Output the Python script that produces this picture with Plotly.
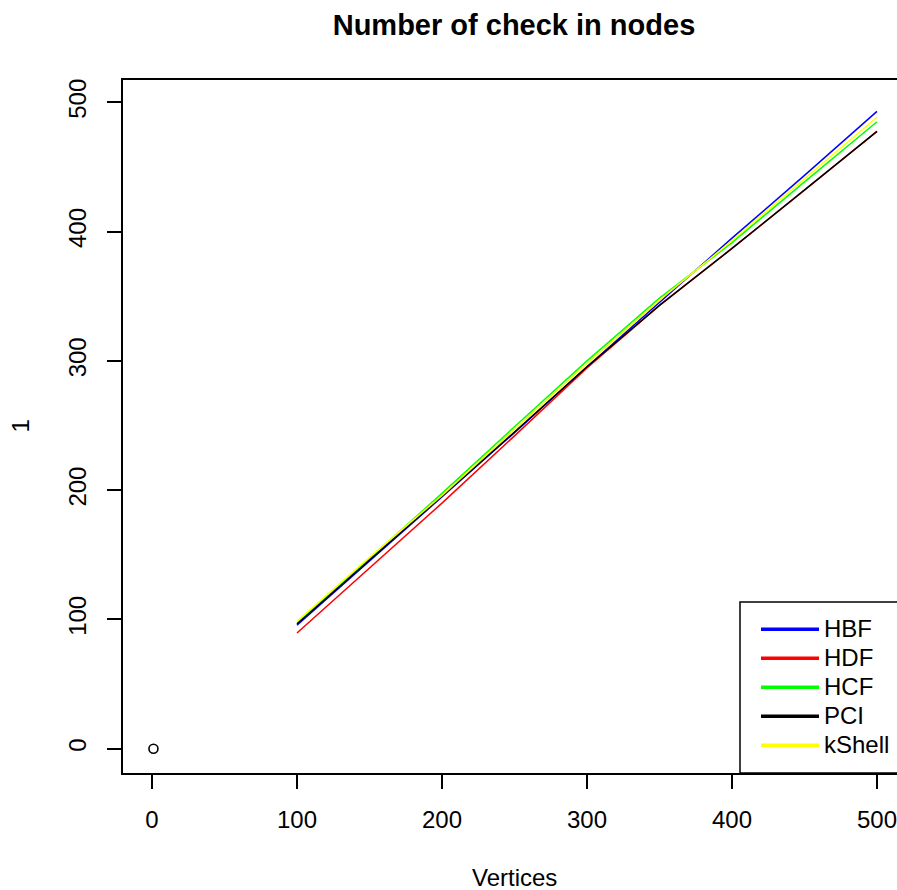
import plotly.graph_objects as go

# values (x = vertices)
vertices = [100, 150, 200, 250, 300, 350, 400, 450, 500]
hbf = [95.5, 145, 194.5, 244.5, 295.5, 345, 395, 443.5, 493]
hdf = [89.5, 139.5, 190, 242, 294.5, 343, 387, 432, 477.5]
hcf = [97, 147.5, 197.5, 249, 300, 348.5, 391.5, 438.5, 485]
pci = [96.5, 146, 195, 245, 295.5, 343, 387, 432, 477.5]
kshell = [98.5, 148, 196, 247, 298, 347, 393, 441, 488.5]

point_x = [1]
point_y = [0]

series = [
    ("HBF", hbf, "#0000ff"),
    ("HDF", hdf, "#ff0000"),
    ("HCF", hcf, "#00ff00"),
    ("PCI", pci, "#000000"),
    ("kShell", kshell, "#ffff00"),
]

FONT = "Liberation Sans, Arial, sans-serif"

fig = go.Figure()

fig.add_trace(go.Scatter(x=point_x, y=point_y, mode="markers", showlegend=False,
                         marker=dict(symbol="circle-open", size=9, color="black",
                                     line=dict(width=1.6))))

for name, vals, col in series:
    fig.add_trace(go.Scatter(x=vertices, y=vals, mode="lines", name=name, showlegend=False,
                             line=dict(color=col, width=1.5)))

# legend entries with thicker line samples (larger text, tighter rows)
for name, vals, col in series:
    fig.add_trace(go.Scatter(x=[None], y=[None], mode="lines",
                             name=f"<span style='font-size:24px'>{name}</span>",
                             line=dict(color=col, width=3.5)))

# legend frame running off the right edge like the reference
fig.add_shape(type="rect", xref="paper", yref="paper",
              x0=(740 - 123) / 774, x1=1.05, y0=0, y1=(773 - 602) / 693,
              line=dict(color="black", width=1.5), fillcolor="white", layer="above")

fig.update_layout(
    width=897, height=890, autosize=False,
    margin=dict(l=123, r=0, t=80, b=117),
    plot_bgcolor="white", paper_bgcolor="white",
    font=dict(family=FONT, size=24, color="black"),
    title=dict(text="<b>Number of check in nodes</b>", x=514 / 897, xanchor="center",
               y=1 - 25 / 890, yanchor="middle", yref="container",
               font=dict(family=FONT, size=29, color="black")),
    showlegend=True,
    legend=dict(x=(756 - 123) / 774, xanchor="left", y=0.012, yanchor="bottom",
                bgcolor="rgba(0,0,0,0)", borderwidth=0, itemwidth=58,
                font=dict(family=FONT, size=20, color="black"),
                tracegroupgap=0),
)

fig.update_xaxes(range=[-20, 513.8], tickvals=[0, 100, 200, 300, 400, 500],
                 showgrid=False, zeroline=False, showline=True, linecolor="black",
                 linewidth=1.5, mirror=True, ticks="outside", ticklen=14, tickwidth=1.5,
                 tickcolor="black", ticklabelstandoff=10, ticklabeloverflow="allow",
                 tickfont=dict(family=FONT, size=24, color="black"))
fig.update_yaxes(range=[-18.8, 517.3], tickvals=[0, 100, 200, 300, 400, 500],
                 showgrid=False, zeroline=False, showline=True, linecolor="black",
                 linewidth=1.5, mirror=False, ticks="outside", ticklen=14, tickwidth=1.5,
                 tickcolor="black", tickangle=-90, ticklabelstandoff=12,
                 tickfont=dict(family=FONT, size=24, color="black"))

fig.add_annotation(text="Vertices", xref="paper", yref="paper", x=(514 - 123) / 774, y=0,
                   xanchor="center", yanchor="middle", yshift=-104, showarrow=False,
                   font=dict(family=FONT, size=24, color="black"))
fig.add_annotation(text="1", xref="paper", yref="paper", x=0, y=0.5, textangle=-90,
                   xanchor="center", yanchor="middle", xshift=-103, showarrow=False,
                   font=dict(family=FONT, size=24, color="black"))

fig.write_html("out.html", config={"displayModeBar": False},
               post_script="document.body.style.margin='0';")
